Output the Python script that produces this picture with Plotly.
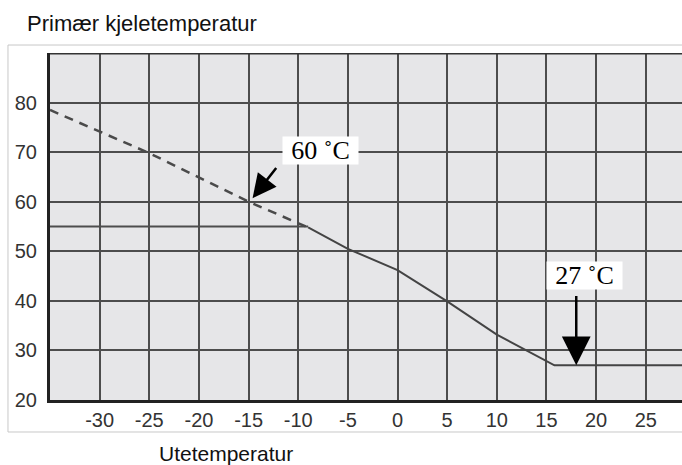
import plotly.graph_objects as go

# Heating curve: primary boiler temperature vs outdoor temperature
x_ticks = [-30, -25, -20, -15, -10, -5, 0, 5, 10, 15, 20, 25]
x_tick_text = ["-30", "-25", "-20", "-15", "-10", "-5", "0", "5", "10", "15", "20", "25"]
y_ticks = [20, 30, 40, 50, 60, 70, 80]
y_tick_text = ["20", "30", "40", "50", "60", "70", "80"]

# limited (dashed) part of the curve
dash_x = [-35, -25, -15, -9]
dash_y = [78.5, 69.8, 60, 54.8]

# active (solid) part of the curve, ending in the minimum level
solid_x = [-9, -5, 0, 5, 10, 15.8, 28.65]
solid_y = [54.8, 50.5, 46.2, 39.9, 33.2, 27, 27]

# maximum-limit reference line
limit_x = [-35, -9]
limit_y = [55, 55]

# labelled points
max_point = (-15, 60)
min_point = (18, 27)
max_label = "60 ˚C"
min_label = "27 ˚C"

X_RANGE = [-35, 28.65]
Y_RANGE = [20, 90]

tick_font = dict(family="Liberation Sans, Arial, sans-serif", size=20, color="#333333")
grid_col = "#4d4d4d"

fig = go.Figure()

fig.add_trace(go.Scatter(x=limit_x, y=limit_y, mode="lines",
                         line=dict(color=grid_col, width=2), hoverinfo="skip"))
fig.add_trace(go.Scatter(x=dash_x, y=dash_y, mode="lines",
                         line=dict(color="#4a4a4a", width=2.5, dash="9px,7px"), hoverinfo="skip"))
fig.add_trace(go.Scatter(x=solid_x, y=solid_y, mode="lines",
                         line=dict(color="#444444", width=2), hoverinfo="skip"))

# outer light frame around the chart
fig.add_shape(type="rect", xref="paper", yref="paper",
              x0=-0.0665, x1=1.05, y0=-0.0922, y1=1.023,
              line=dict(color="#c8c8c8", width=1), fillcolor="rgba(0,0,0,0)", layer="below")
# top border of the grid
fig.add_shape(type="line", xref="x", yref="y", x0=X_RANGE[0], x1=X_RANGE[1], y0=90, y1=90,
              line=dict(color="#333333", width=3))

# arrows
fig.add_annotation(x=max_point[0] + 0.4, y=max_point[1] + 0.7, ax=-12.1, ay=67.1,
                   xref="x", yref="y", axref="x", ayref="y", text="",
                   showarrow=True, arrowhead=2, arrowsize=1.9, arrowwidth=2.5, arrowcolor="black")
fig.add_annotation(x=min_point[0], y=min_point[1], ax=min_point[0], ay=41.3,
                   xref="x", yref="y", axref="x", ayref="y", text="",
                   showarrow=True, arrowhead=2, arrowsize=2.3, arrowwidth=2.5, arrowcolor="black")

# value labels
for (lx, ly, txt) in [(-7.8, 70.3, max_label), (18.8, 45.1, min_label)]:
    fig.add_annotation(x=lx, y=ly, xref="x", yref="y", text=txt, showarrow=False,
                       bgcolor="white", width=75, height=27, borderpad=0,
                       font=dict(family="Liberation Serif, Times New Roman, serif", size=26, color="black"))

# titles
fig.add_annotation(x=25, y=23, xref="paper", yref="paper", text="Primær kjeletemperatur",
                   showarrow=False, xanchor="left", yanchor="middle",
                   font=dict(family="Liberation Sans, Arial, sans-serif", size=22, color="#111111"))
fig.add_annotation(x=157, y=453, xref="paper", yref="paper", text="Utetemperatur",
                   showarrow=False, xanchor="left", yanchor="middle",
                   font=dict(family="Liberation Sans, Arial, sans-serif", size=21, color="#111111"))

W, H = 682, 465
L, T, B, R = 50, 53, 65, 0
pw, ph = W - L - R, H - T - B
# convert the two title positions from pixels to paper coordinates
for ann in fig.layout.annotations[-2:]:
    ann.x = (ann.x - L) / pw
    ann.y = (H - B - ann.y) / ph

fig.update_layout(
    width=W, height=H,
    margin=dict(l=L, r=R, t=T, b=B, pad=0),
    paper_bgcolor="white", plot_bgcolor="#e6e6e8",
    showlegend=False,
    xaxis=dict(range=X_RANGE, tickvals=x_ticks, ticktext=x_tick_text, showgrid=True,
               gridcolor=grid_col, gridwidth=2, zeroline=False, showline=True,
               linecolor="#222222", linewidth=3, ticks="", tickfont=tick_font, fixedrange=True),
    yaxis=dict(range=Y_RANGE, tickvals=y_ticks, ticktext=y_tick_text, showgrid=True,
               gridcolor=grid_col, gridwidth=2, zeroline=False, showline=True,
               linecolor="#222222", linewidth=3, ticks="", tickfont=tick_font, fixedrange=True,
               ticklabelstandoff=6),
)

fig.write_html("out.html")
